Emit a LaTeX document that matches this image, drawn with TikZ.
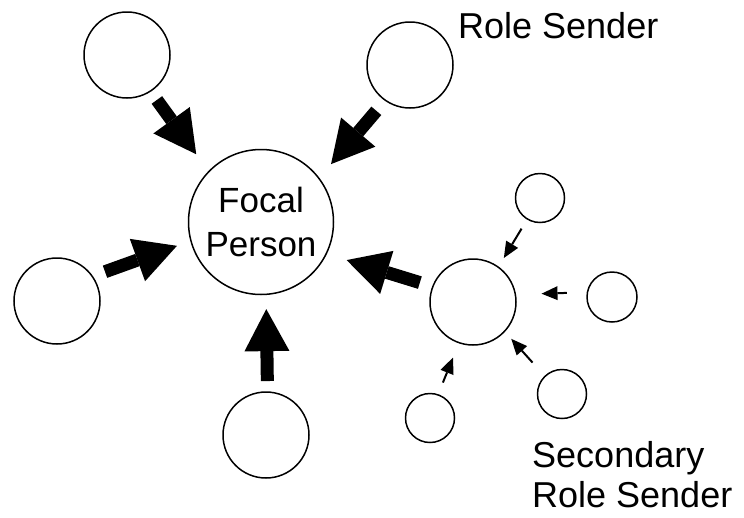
\documentclass[tikz,border=0pt]{standalone}
\usepackage{fontspec}
\setmainfont{Liberation Sans}
\usetikzlibrary{arrows.meta}
\begin{document}
\begin{tikzpicture}[x=1pt,y=-1pt,
  person/.style={circle,draw,line width=1.5pt,inner sep=0pt,outer sep=0pt},
  bigarrow/.style={line width=13pt,-{Triangle[length=42pt,width=45pt,line width=0pt]}},
  smallarrow/.style={line width=2pt,-{Triangle[length=16pt,width=14pt,line width=0pt]}},
  lbl/.style={font=\fontsize{36}{40}\selectfont,inner sep=0pt}]
\useasboundingbox (0,0) rectangle (744,517);
% circles
\node[person,minimum size=145pt,align=center,font=\fontsize{35}{44}\selectfont] (focal) at (261,222) {Focal\\Person};
\node[person,minimum size=86pt] (tl) at (127,55) {};
\node[person,minimum size=86pt] (tr) at (410,65) {};
\node[person,minimum size=86pt] (lf) at (57,301) {};
\node[person,minimum size=86pt] (bt) at (266,435) {};
\node[person,minimum size=86pt] (hub) at (473,302) {};
\node[person,minimum size=49pt] (s1) at (540,198) {};
\node[person,minimum size=50pt] (s2) at (612,297) {};
\node[person,minimum size=49pt] (s3) at (562,394) {};
\node[person,minimum size=49pt] (s4) at (430,418) {};
% big arrows
\draw[bigarrow,shorten <=11pt,shorten >=21.5pt] (tl.303.7) -- (focal.136.3);
\draw[bigarrow,shorten <=13.9pt,shorten >=18.7pt] (tr.235.8) -- (focal.37.9);
\draw[bigarrow,shorten <=13.6pt,shorten >=14.9pt] (lf.35.7) -- (focal.195.9);
\draw[bigarrow,shorten <=11pt,shorten >=14.8pt] (bt.88.4) -- (focal.274.6);
\draw[bigarrow,shorten <=13.6pt,shorten >=21.4pt] (hub.159.3) -- (focal.334.8);
% small arrows
\draw[smallarrow,shorten <=11.3pt,shorten >=10.8pt] (s1.239.9) -- (hub.54.8);
\draw[smallarrow,shorten <=20.7pt,shorten >=26.2pt] (s2.169.9) -- (hub.10.8);
\draw[smallarrow,shorten <=18.6pt,shorten >=10.1pt] (s3.134.1) -- (hub.317.3);
\draw[smallarrow,shorten <=13.2pt,shorten >=16.1pt] (s4.71.6) -- (hub.251.3);
% labels
\node[lbl,anchor=base west] (rs) at (458,38) {Role Sender};
\node[lbl,anchor=base west,align=left] (srs) at (532,507) {Secondary\\Role Sender};
\end{tikzpicture}
\end{document}
